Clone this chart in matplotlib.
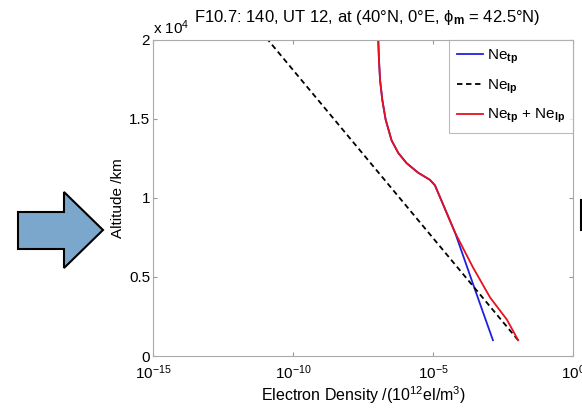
import matplotlib
matplotlib.use("Agg")
import matplotlib.pyplot as plt
from matplotlib.patches import Polygon
from matplotlib.lines import Line2D
from matplotlib.transforms import Affine2D
from matplotlib.ticker import FuncFormatter
import numpy as np

plt.rcParams['font.family'] = ['Liberation Sans', 'DejaVu Sans']
plt.rcParams['mathtext.fontset'] = 'custom'
plt.rcParams['mathtext.rm'] = 'Liberation Sans'
plt.rcParams['mathtext.it'] = 'Liberation Sans'
plt.rcParams['mathtext.bf'] = 'Liberation Sans:bold'

# altitude in km, log10 of electron density (10^12 el/m^3)
alt_sum = [1000, 2300, 3700, 5600, 7800, 9050, 10050, 10800, 11150, 11600,
           12200, 12850, 13650, 14950, 16200, 17450, 18750, 20000]
log_ne_sum = [-1.96, -2.36, -2.96, -3.57, -4.21, -4.51, -4.75, -4.93, -5.11, -5.53,
              -5.94, -6.24, -6.48, -6.69, -6.81, -6.89, -6.93, -6.955]

alt_tp = [1000, 4000, 7800, 9050, 10050, 10800, 11150, 11600,
          12200, 12850, 13650, 14950, 16200, 17450, 18750, 20000]
log_ne_tp = [-2.86, -3.46, -4.21, -4.51, -4.75, -4.93, -5.11, -5.53,
             -5.94, -6.24, -6.48, -6.69, -6.81, -6.89, -6.93, -6.955]

alt_lp = [1000, 20000]
log_ne_lp = [-1.96, -10.89]

fs = 11

fig = plt.figure(figsize=(5.82, 4.08), dpi=100)
ax = fig.add_axes([153 / 582, 52 / 408, 420 / 582, 316 / 408])

ax.plot(10 ** np.array(log_ne_tp), alt_tp, color='#2020e0', lw=1.3,
        label='Ne$_{\\mathbf{tp}}$')
ax.plot(10 ** np.array(log_ne_lp), alt_lp, color='black', lw=1.3, ls=(0, (3, 2)),
        label='Ne$_{\\mathbf{lp}}$')
ax.plot(10 ** np.array(log_ne_sum), alt_sum, color='#e8101a', lw=1.3,
        label='Ne$_{\\mathbf{tp}}$ + Ne$_{\\mathbf{lp}}$')

ax.set_xscale('log')
ax.set_xlim(1e-15, 1e0)
ax.set_ylim(0, 20000)
ax.set_xticks([1e-15, 1e-10, 1e-5, 1e0])
ax.minorticks_off()
ax.set_yticks([0, 5000, 10000, 15000, 20000])
ax.yaxis.set_major_formatter(FuncFormatter(lambda v, p: '%g' % (v / 1e4)))
ax.tick_params(direction='in', length=3, color='#999999', labelsize=fs,
               top=True, right=True)
ax.tick_params(axis='x', pad=5)
ax.tick_params(axis='y', pad=2)
for s in ax.spines.values():
    s.set_color('#aaaaaa')
    s.set_linewidth(0.8)

ax.set_xlabel('Electron Density /(10$^{12}$el/m$^3$)', fontsize=11.5, labelpad=2)
ax.set_ylabel('Altitude /km', fontsize=fs, labelpad=3)
ax.text(0.0, 1.008, 'x 10$^4$', transform=ax.transAxes, fontsize=fs,
        ha='left', va='bottom')
ax.set_title('F10.7: 140, UT 12, at (40°N, 0°E, $\\phi_{\\mathbf{m}}$ = 42.5°N)',
             fontsize=12, pad=13, x=0.51)

leg = ax.legend(loc='upper right', fontsize=fs, frameon=True, fancybox=False,
                edgecolor='#aaaaaa', handlelength=1.7, handletextpad=0.3,
                labelspacing=0.75, borderaxespad=0.0, borderpad=0.5)
leg.get_frame().set_linewidth(0.8)

# block arrow on the left (pixel coords from the top-left corner)
flip = Affine2D().scale(1, -1).translate(0, 408)
arrow = Polygon([(18, 212), (64, 212), (64, 192), (103, 230), (64, 268),
                 (64, 249), (18, 249)], closed=True, facecolor='#7ba7cc',
                edgecolor='black', lw=1.5)
arrow.set_transform(flip)
fig.patches.append(arrow)

# small mark at the right edge
mark = Line2D([581, 581], [200, 230], color='black', lw=1.5)
mark.set_transform(flip)
fig.lines.append(mark)

fig.savefig('out.png', dpi=100)
